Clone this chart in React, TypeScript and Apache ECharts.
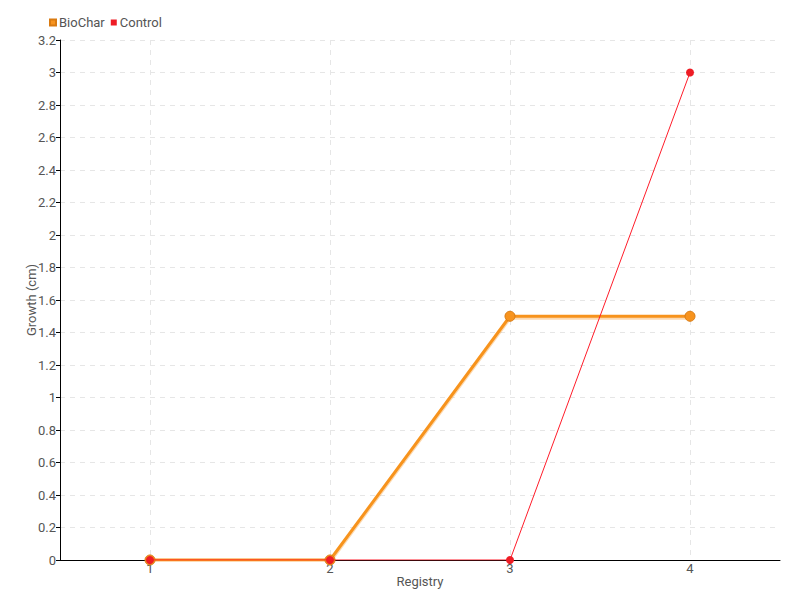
import React, { useEffect, useRef } from "react";
import * as echarts from "echarts";

const categories = ["1", "2", "3", "4"];
const bioCharValues = [0, 0, 1.5, 1.5];
const controlValues = [0, 0, 0, 3];
const yTicks = { min: 0, max: 3.2, interval: 0.2 };

const FONT = "Roboto, sans-serif";

export default function App() {
  const ref = useRef<HTMLDivElement>(null);
  useEffect(() => {
    if (!ref.current) return;
    const chart = echarts.init(ref.current, undefined, { renderer: "svg" });
    chart.setOption({
      animation: false,
      textStyle: { fontFamily: FONT },
      legend: {
        left: 44,
        top: 11,
        icon: "rect",
        itemWidth: 6,
        itemHeight: 6,
        itemGap: 6,
        textStyle: { color: "#555", fontSize: 13, fontFamily: FONT, padding: [0, 0, 0, -2] },
        data: ["BioChar", "Control"],
      },
      grid: { left: 60, right: 20, top: 40, bottom: 40 },
      xAxis: {
        type: "category",
        data: categories,
        name: "Registry",
        nameLocation: "middle",
        nameGap: 15,
        nameMoveOverlap: false,
        nameTextStyle: { color: "#555", fontSize: 13, fontFamily: FONT },
        axisLine: { lineStyle: { color: "#000" } },
        axisTick: { alignWithLabel: true, length: 5, lineStyle: { color: "#555" } },
        axisLabel: { color: "#555", fontSize: 13, margin: 2, fontFamily: FONT },
        splitLine: {
          show: true,
          alignWithLabel: true,
          lineStyle: { color: "#e6e6e6", type: [5, 5] },
        },
      },
      yAxis: {
        type: "value",
        min: yTicks.min,
        max: yTicks.max,
        interval: yTicks.interval,
        name: "Growth (cm)",
        nameLocation: "middle",
        nameGap: 22,
        nameMoveOverlap: false,
        nameTextStyle: { color: "#555", fontSize: 13, fontFamily: FONT },
        axisLine: { show: true, lineStyle: { color: "#000" } },
        axisTick: { show: true, length: 4, lineStyle: { color: "#000" } },
        axisLabel: { color: "#555", fontSize: 13, margin: 4, fontFamily: FONT },
        splitLine: { lineStyle: { color: "#e6e6e6", type: [5, 5] } },
      },
      series: [
        {
          name: "BioChar",
          type: "line",
          data: bioCharValues,
          symbol: "circle",
          symbolSize: 10,
          itemStyle: { color: "#f7931e", borderColor: "#d97a10", borderWidth: 1 },
          lineStyle: {
            color: "#f7931e",
            width: 3,
            shadowColor: "rgba(247,147,30,0.35)",
            shadowBlur: 0,
            shadowOffsetY: 2,
          },
          z: 2,
        },
        {
          name: "Control",
          type: "line",
          data: controlValues,
          symbol: "circle",
          symbolSize: 8,
          itemStyle: { color: "#ee1c25", borderWidth: 0 },
          lineStyle: { color: "#ff1c2a", width: 1 },
          z: 3,
        },
      ],
    });
    return () => chart.dispose();
  }, []);
  return <div ref={ref} style={{ width: 800, height: 600, position: "absolute", left: 0, top: 0 }} />;
}
